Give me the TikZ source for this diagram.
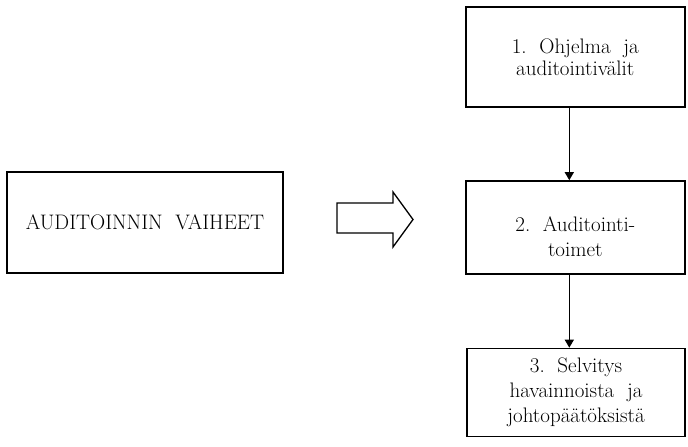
\documentclass[tikz,border=0pt]{standalone}
\usetikzlibrary{arrows.meta}
\tikzset{
  box/.style={draw, line width=1.6pt, align=center, inner sep=0pt, font=\fontsize{21}{25}\selectfont},
  txt/.style={align=center, inner sep=0pt, font=\fontsize{21}{25}\selectfont},
  flow/.style={line width=1.4pt, -{Triangle[length=8pt,width=9pt]}}
}
\begin{document}
\begin{tikzpicture}[x=1pt,y=-1pt]
    \useasboundingbox (0,0) rectangle (688,447);

    \node[box, minimum width=276pt, minimum height=101pt] (phases) at (145,222.5) {AUDITOINNIN~~VAIHEET};
    \draw[line width=1.3pt] (337,203) -- (393,203) -- (393,192) -- (413,219.5)
        -- (393,247) -- (393,233) -- (337,233) -- cycle;

    \node[box, minimum width=219pt, minimum height=100pt] (ohjelma) at (575.3,57) {1.~~Ohjelma~~ja\\[-3pt]auditointivälit};
    \node[box, minimum width=219pt, minimum height=93pt] (toimet) at (575.3,227.5) {};
    \node[txt] (toimetteksti) at (575.3,237) {2.~~Auditointi-\\toimet};
    \node[box, minimum width=218pt, minimum height=88pt] (selvitys) at (576,392.5) {3.~~Selvitys\\havainnoista~~ja\\johtopäätöksistä};

    \draw[flow] ([xshift=-6pt]ohjelma.south) -- ([xshift=-6pt]toimet.north);
    \draw[flow] ([xshift=-6pt]toimet.south) -- ([xshift=-6pt]toimet.south |- selvitys.north);
\end{tikzpicture}
\end{document}
